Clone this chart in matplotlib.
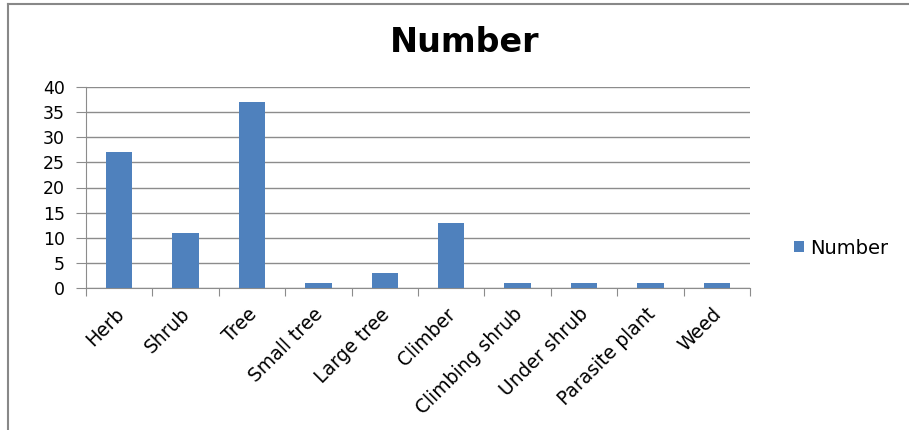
import matplotlib
matplotlib.use("Agg")
import matplotlib.pyplot as plt
from matplotlib.lines import Line2D
import matplotlib.transforms as mtransforms
import numpy as np

categories = ["Herb", "Shrub", "Tree", "Small tree", "Large tree", "Climber",
              "Climbing shrub", "Under shrub", "Parasite plant", "Weed"]
values = [27, 11, 37, 1, 3, 13, 1, 1, 1, 1]
series_name = "Number"
yticks = [0, 5, 10, 15, 20, 25, 30, 35, 40]

plt.rcParams['font.family'] = ['DejaVu Sans']
BAR = "#4F81BD"
GRID = "#8C8C8C"

fig = plt.figure(figsize=(9.09, 4.30), dpi=100)
W, H = 909, 430
ax = fig.add_axes([86 / W, 1 - 288 / H, (750 - 86) / W, (288 - 87) / H])

x = np.arange(len(categories))
ax.bar(x, values, width=0.4, color=BAR, label=series_name, zorder=3)

ax.set_xlim(-0.5, len(categories) - 0.5)
ax.set_ylim(0, 40)
ax.set_yticks(yticks)
ax.yaxis.grid(True, color=GRID, linewidth=1)
ax.set_axisbelow(True)
for s in ["top", "right"]:
    ax.spines[s].set_visible(False)
ax.spines["left"].set_color(GRID)
ax.spines["bottom"].set_color(GRID)
ax.tick_params(axis="y", length=7, color=GRID, labelsize=12.5, pad=8, labelcolor="#000000")

ax.set_xticks(np.arange(-0.5, len(categories), 1.0))
ax.set_xticklabels([])
ax.tick_params(axis="x", length=6, color=GRID)
ax.set_xticks(x, minor=True)
ax.set_xticklabels(categories, minor=True, rotation=45, ha="right",
                   rotation_mode="anchor", fontsize=13.5)
ax.tick_params(axis="x", which="minor", length=0, pad=12)
offset = mtransforms.ScaledTranslation(-5 / 100, 0, fig.dpi_scale_trans)
for lab in ax.get_xticklabels(minor=True):
    lab.set_transform(lab.get_transform() + offset)

fig.text(465 / W, 1 - 42 / H, "Number", ha="center", va="center",
         fontsize=24, fontweight="bold")

leg = fig.legend(loc="center left", bbox_to_anchor=(786 / W, 1 - 248 / H),
                 frameon=False, fontsize=14, handlelength=0.55, handleheight=0.55,
                 handletextpad=0.3, borderaxespad=0)

# chart border (cropped: only left and top visible)
fig.add_artist(Line2D([8 / W, 8 / W], [0, 1 - 4 / H], transform=fig.transFigure,
                      color="#888888", linewidth=1.5))
fig.add_artist(Line2D([8 / W, 1], [1 - 4 / H, 1 - 4 / H], transform=fig.transFigure,
                      color="#888888", linewidth=1.5))

fig.savefig("out.png", dpi=100)
